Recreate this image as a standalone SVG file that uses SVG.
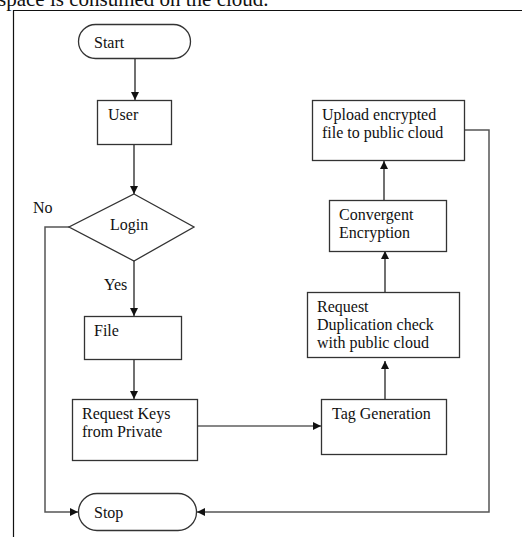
<svg xmlns="http://www.w3.org/2000/svg" width="522" height="537" viewBox="0 0 522 537">
<style>
text{font-family:"Liberation Serif","Times New Roman",serif;font-size:16px;fill:#111}
.box{fill:#fff;stroke:#333;stroke-width:1.3}
.ln{fill:none;stroke:#111;stroke-width:1.2}
.gl{fill:none;stroke:#555;stroke-width:1.5}
</style>
<defs>
<marker id="ah" viewBox="0 0 10 10" refX="10" refY="5" markerWidth="8" markerHeight="8" markerUnits="userSpaceOnUse" orient="auto">
<path d="M0,0 L10,5 L0,10 z" fill="#111"/>
</marker>
</defs>
<rect width="522" height="537" fill="#fff"/>
<text x="-2" y="6" style="font-size:21px">space is consumed on the cloud.</text>
<path d="M13.5,537 V10.5 H522" fill="none" stroke="#111" stroke-width="1.2"/>
<g id="connectors">
<path class="ln" d="M135,59 V100" marker-end="url(#ah)"/>
<path class="ln" d="M134,144 V194" marker-end="url(#ah)"/>
<path class="ln" d="M134,261 V316" marker-end="url(#ah)"/>
<path class="ln" d="M134,359 V399" marker-end="url(#ah)"/>
<path class="ln" d="M197,426 H321" marker-end="url(#ah)"/>
<path class="ln" d="M385,399 V361" marker-end="url(#ah)"/>
<path class="ln" d="M385,292 V251" marker-end="url(#ah)"/>
<path class="ln" d="M384,200 V161" marker-end="url(#ah)"/>
<path class="gl" d="M69,227 H45 V512 H78" marker-end="url(#ah)"/>
<path class="gl" d="M464,130 H489 V512 H197" marker-end="url(#ah)"/>
<text x="33" y="213">No</text>
<text x="104" y="290">Yes</text>
</g>
<g id="start">
<rect class="box" x="78.5" y="24.5" width="112" height="34" rx="17"/>
<text x="94" y="48">Start</text>
</g>
<g id="user">
<rect class="box" x="97.5" y="100.5" width="74" height="44"/>
<text x="108" y="120">User</text>
</g>
<g id="login">
<path class="box" d="M134,194 L194,227 L134,261 L69,227 Z"/>
<text x="110" y="230">Login</text>
</g>
<g id="file">
<rect class="box" x="84.5" y="316.5" width="97" height="43"/>
<text x="94" y="336">File</text>
</g>
<g id="request-keys">
<rect class="box" x="72.5" y="399.5" width="125" height="61"/>
<text x="82" y="419">Request Keys</text>
<text x="82" y="437">from Private</text>
</g>
<g id="tag-generation">
<rect class="box" x="321.5" y="399.5" width="125" height="55"/>
<text x="332" y="419">Tag Generation</text>
</g>
<g id="request-duplication">
<rect class="box" x="307.5" y="292.5" width="152" height="65"/>
<text x="317" y="312">Request</text>
<text x="317" y="330">Duplication check</text>
<text x="317" y="348">with public cloud</text>
</g>
<g id="convergent-encryption">
<rect class="box" x="329.5" y="200.5" width="117" height="51"/>
<text x="339" y="220">Convergent</text>
<text x="339" y="238">Encryption</text>
</g>
<g id="upload">
<rect class="box" x="312.5" y="100.5" width="152" height="60"/>
<text x="322" y="120">Upload encrypted</text>
<text x="322" y="138">file to public cloud</text>
</g>
<g id="stop">
<rect class="box" x="78.5" y="493.5" width="118" height="37" rx="18.5"/>
<text x="94" y="518">Stop</text>
</g>
</svg>
